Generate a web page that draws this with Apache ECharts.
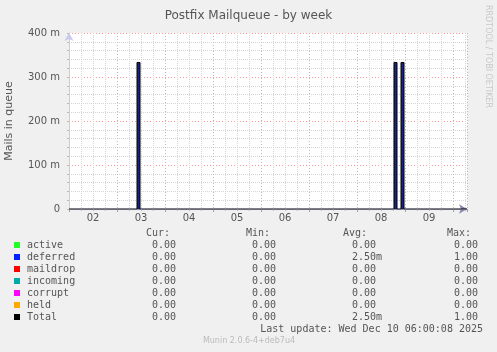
<!DOCTYPE html>
<html>
<head>
<meta charset="utf-8">
<script src="https://cdn.jsdelivr.net/npm/echarts@6/dist/echarts.min.js"></script>
<style>
    html, body { margin: 0; padding: 0; background: #f0f0f0; }
    #chart { width: 497px; height: 352px; }
</style>
</head>
<body>
<div id="chart"></div>
<script>
    // hours since Dec 02 00:00 (30 min buckets)
    var hours    = [0, 34, 35.5, 162.5, 164, 166, 167.5, 199];
    var deferred = [0, 0.333, 0, 0.333, 0, 0.333, 0, 0];
    var total    = [0, 0.333, 0, 0.333, 0, 0.333, 0, 0];

    var dayLabels = ['02', '03', '04', '05', '06', '07', '08', '09'];

    // legend table
    var names  = ['active', 'deferred', 'maildrop', 'incoming', 'corrupt', 'held', 'Total'];
    var colors = ['#22ff22', '#0022ff', '#ff0000', '#00aaaa', '#ff00ff', '#ffaa00', '#000000'];
    var curVals = ['0.00', '0.00', '0.00', '0.00', '0.00', '0.00', '0.00'];
    var minVals = ['0.00', '0.00', '0.00', '0.00', '0.00', '0.00', '0.00'];
    var avgVals = ['0.00', '2.50m', '0.00', '0.00', '0.00', '0.00', '2.50m'];
    var maxVals = ['0.00', '1.00', '0.00', '0.00', '0.00', '0.00', '1.00'];

    var chart = echarts.init(document.getElementById('chart'));

    function pairs(xs, ys) {
        return xs.map(function (x, i) { return [x, ys[i]]; });
    }

    var mono = '10px "DejaVu Sans Mono"';
    var txtColor = '#555';
    var graphics = [];

    // header
    [['Cur:', 146], ['Min:', 246], ['Avg:', 343], ['Max:', 447]].forEach(function (h) {
        graphics.push({ type: 'text', style: { text: h[0], x: h[1], y: 233, font: mono, fill: txtColor, verticalAlign: 'middle' } });
    });

    names.forEach(function (n, i) {
        var y = 245 + i * 12;
        graphics.push({ type: 'rect', shape: { x: 14, y: y - 3, width: 6, height: 6 }, style: { fill: colors[i] } });
        graphics.push({ type: 'text', style: { text: n, x: 27, y: y, font: mono, fill: txtColor, verticalAlign: 'middle' } });
        graphics.push({ type: 'text', style: { text: curVals[i], x: 176, y: y, font: mono, fill: txtColor, align: 'right', verticalAlign: 'middle' } });
        graphics.push({ type: 'text', style: { text: minVals[i], x: 276, y: y, font: mono, fill: txtColor, align: 'right', verticalAlign: 'middle' } });
        graphics.push({ type: 'text', style: { text: avgVals[i], x: 352, y: y, font: mono, fill: txtColor, verticalAlign: 'middle' } });
        graphics.push({ type: 'text', style: { text: maxVals[i], x: 478, y: y, font: mono, fill: txtColor, align: 'right', verticalAlign: 'middle' } });
    });

    graphics.push({ type: 'text', style: { text: 'Last update: Wed Dec 10 06:00:08 2025', x: 483, y: 329, font: mono, fill: txtColor, align: 'right', verticalAlign: 'middle' } });
    graphics.push({ type: 'text', style: { text: 'Munin 2.0.6-4+deb7u4', x: 249, y: 341, font: '8px "DejaVu Sans"', fill: '#bbb', align: 'center', verticalAlign: 'middle' } });
    graphics.push({ type: 'text', rotation: -Math.PI / 2, x: 488, y: 5, style: { text: 'RRDTOOL / TOBI OETIKER', x: 0, y: 0, font: '8px "DejaVu Sans"', fill: '#c8c8c8', verticalAlign: 'middle' } });

    var option = {
        backgroundColor: '#f0f0f0',
        animation: false,
        title: {
            text: 'Postfix Mailqueue - by week',
            left: 'center',
            top: 5,
            textStyle: { fontFamily: 'DejaVu Sans', fontSize: 12, fontWeight: 'normal', color: '#555' }
        },
        grid: {
            left: 69, right: 30, top: 33, bottom: 143,
            outerBoundsMode: 'none',
            containLabel: false,
            show: true, backgroundColor: '#ffffff', borderWidth: 0
        },
        xAxis: {
            type: 'value',
            min: 0, max: 199, interval: 24,
            axisLine: { lineStyle: { color: '#8888aa' }, symbol: ['none', 'arrow'], symbolSize: [7, 8] },
            axisTick: { show: true, length: 3, lineStyle: { color: '#f08080' } },
            minorTick: { show: true, splitNumber: 4, length: 2, lineStyle: { color: '#bbb' } },
            splitLine: { show: true, lineStyle: { color: '#f4a0a0', type: [1, 2] } },
            minorSplitLine: { show: true, lineStyle: { color: '#d4d4d4', type: [1, 1] } },
            axisLabel: {
                customValues: dayLabels.map(function (d, i) { return 12 + 24 * i; }),
                formatter: function (v) { return dayLabels[Math.round((v - 12) / 24)]; },
                margin: 4,
                fontFamily: 'DejaVu Sans', fontSize: 10, color: txtColor
            }
        },
        yAxis: {
            type: 'value',
            min: 0, max: 0.4, interval: 0.1,
            offset: 2,
            name: 'Mails in queue',
            nameLocation: 'middle',
            nameGap: 52,
            nameTextStyle: { fontFamily: 'DejaVu Sans', fontSize: 11, color: txtColor },
            axisLine: { show: true, lineStyle: { color: '#c8c8f0' }, symbol: ['none', 'arrow'], symbolSize: [7, 8] },
            axisTick: { show: true, length: 2, lineStyle: { color: '#bbb' } },
            minorTick: { show: true, splitNumber: 5, length: 2, lineStyle: { color: '#bbb' } },
            splitLine: { show: true, lineStyle: { color: '#f4a0a0', type: [1, 2] } },
            minorSplitLine: { show: true, lineStyle: { color: '#d4d4d4', type: [1, 1] } },
            axisLabel: {
                margin: 7,
                fontFamily: 'DejaVu Sans', fontSize: 10, color: txtColor,
                formatter: function (v) { return v === 0 ? '0' : Math.round(v * 1000) + ' m'; }
            }
        },
        graphic: graphics,
        series: [
            {
                name: 'deferred',
                type: 'line',
                step: 'end',
                stack: 'queue',
                symbol: 'none',
                data: pairs(hours, deferred),
                lineStyle: { width: 0 },
                areaStyle: { color: '#1a237e', opacity: 1 }
            },
            {
                name: 'Total',
                type: 'line',
                step: 'end',
                symbol: 'none',
                data: pairs(hours, total),
                lineStyle: { color: '#000', width: 1 }
            }
        ]
    };

    chart.setOption(option);
</script>
</body>
</html>
